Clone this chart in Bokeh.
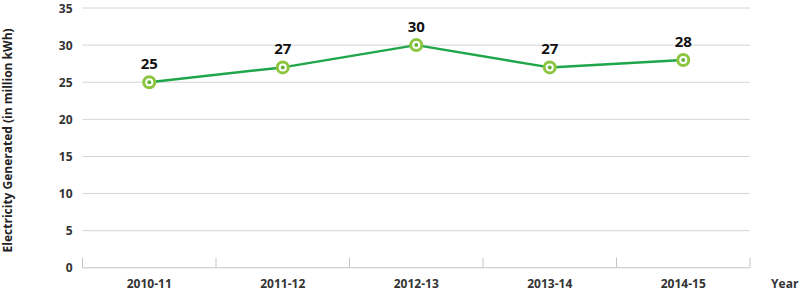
import math
from bokeh.plotting import figure
from bokeh.models import Range1d, ColumnDataSource
from bokeh.core.properties import value
from bokeh.embed import file_html
from bokeh.resources import INLINE

years = ["2010-11", "2011-12", "2012-13", "2013-14", "2014-15"]
generated = [25, 27, 30, 27, 28]
y_ticks = [0, 5, 10, 15, 20, 25, 30, 35]
y_title = "Electricity Generated (in million kWh)"
x_title = "Year"

FONT = "Open Sans"
GREEN = "#1fa54a"
LIGHT = "#8cc63f"
GRID = "#d4d4d4"
AXIS = "#c4c4c4"
TXT = "#333333"

n = len(years)
xpos = [i + 0.5 for i in range(n)]          # category centres
edges = list(range(n + 1))                   # category boundaries
year_pos = n + 0.26                          # axis title right of the last category

# the plotting frame covers the whole canvas; margins are expressed in data units
x0, x1 = -82 / 133.5, n + 50.5 / 133.5
y0, y1 = -22.7 / 7.42, 35 + 7.5 / 7.42

p = figure(width=800, height=290, x_range=Range1d(x0, x1), y_range=Range1d(y0, y1),
           x_axis_location=None, y_axis_location=None,
           output_backend="svg", toolbar_location=None,
           min_border_left=0, min_border_right=0, min_border_top=0, min_border_bottom=0)
p.outline_line_color = None
p.background_fill_color = "white"
p.border_fill_color = "white"
p.grid.visible = False

# horizontal grid lines limited to the category span
gy = [t for t in y_ticks if t > 0]
p.segment(x0=[edges[0]] * len(gy), y0=gy, x1=[edges[-1]] * len(gy), y1=gy, line_color=GRID, line_width=1)
# baseline and category boundary ticks
p.segment(x0=[edges[0]], y0=[0], x1=[edges[-1]], y1=[0], line_color=AXIS, line_width=1)
p.segment(x0=edges, y0=[0] * len(edges), x1=edges, y1=[1.35] * len(edges), line_color=AXIS, line_width=1)

# y tick labels
p.text(x=[edges[0]] * len(y_ticks), y=y_ticks, text=[str(t) for t in y_ticks], x_offset=-10,
       text_align="right", text_baseline="middle", text_font=value(FONT), text_font_size="12px",
       text_font_style="bold", text_color=TXT)
# y axis title
p.text(x=[x0], y=[y_ticks[-1] / 2], text=[y_title], angle=math.pi / 2, x_offset=7, y_offset=2.5,
       text_align="center", text_baseline="middle", text_font=value(FONT), text_font_size="12px",
       text_font_style="bold", text_color="#222222")
# x tick labels and title
p.text(x=xpos + [year_pos], y=[0] * (n + 1), text=years + [x_title], y_offset=15.5,
       text_align="center", text_baseline="middle", text_font=value(FONT), text_font_size="12px",
       text_font_style="bold", text_color=TXT)

src = ColumnDataSource(dict(x=xpos, y=generated, t=[str(v) for v in generated]))
p.line("x", "y", source=src, line_color=GREEN, line_width=2.5)
p.scatter("x", "y", source=src, size=14, fill_color=LIGHT, line_color=None)
p.scatter("x", "y", source=src, size=8, fill_color="white", line_color=None)
p.scatter("x", "y", source=src, size=4, fill_color="#6ab23e", line_color=None)
p.text("x", "y", text="t", source=src, text_align="center", text_baseline="bottom",
       y_offset=-13, text_font=value(FONT), text_font_size="15px", text_font_style="bold",
       text_color="#111111")

open("out.html", "w").write(file_html(p, INLINE))
